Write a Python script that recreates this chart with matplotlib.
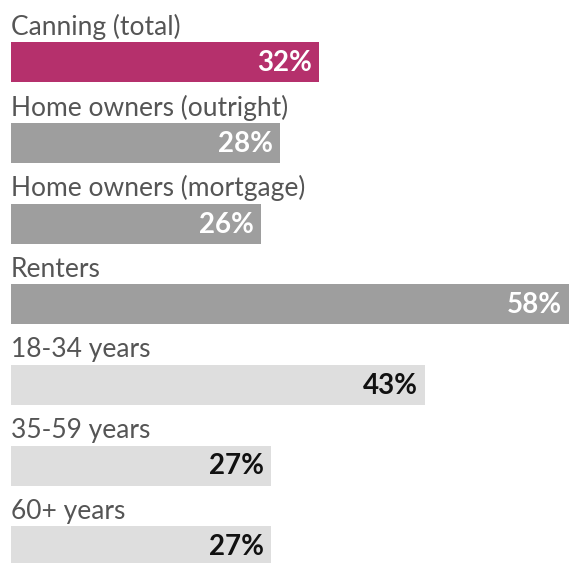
import matplotlib
matplotlib.use("Agg")
import matplotlib.pyplot as plt

categories = ["Canning (total)", "Home owners (outright)", "Home owners (mortgage)",
              "Renters", "18-34 years", "35-59 years", "60+ years"]
values = [32, 28, 26, 58, 43, 27, 27]
bar_colors = ["#B5306C", "#9E9E9E", "#9E9E9E", "#9E9E9E", "#DEDEDE", "#DEDEDE", "#DEDEDE"]
value_colors = ["white", "white", "white", "white", "#111111", "#111111", "#111111"]

W, H = 569, 563
fig = plt.figure(figsize=(W / 100, H / 100), dpi=100)
ax = fig.add_axes([0, 0, 1, 1])
px_per_unit = 9.62
left_px = 11
ax.set_xlim(-left_px / px_per_unit, (W - left_px) / px_per_unit)
row = 80.6
first = 62.5
ax.set_ylim((H - first) / row, -first / row)
ax.axis("off")

ys = list(range(len(categories)))
ax.barh(ys, values, height=40 / row, color=bar_colors, left=0)

for y, cat, v, vc in zip(ys, categories, values, value_colors):
    ax.text(0, y - 0.34, cat, fontsize=19, color="#555555", family="Lato",
            ha="left", va="baseline")
    ax.text(v - 7 / px_per_unit, y + 0.01, f"{v}%", fontsize=20, fontweight="bold",
            color=vc, family="Lato", ha="right", va="center")

fig.savefig("out.png", dpi=100)
